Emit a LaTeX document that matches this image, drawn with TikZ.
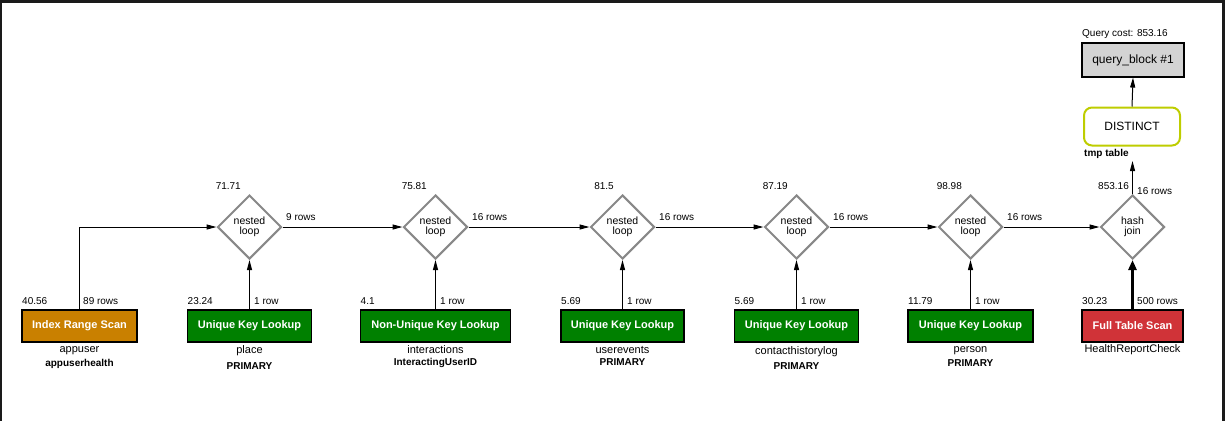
\documentclass[tikz,border=0pt]{standalone}
\usepackage{fontspec}
\setmainfont{Liberation Sans}
\usetikzlibrary{shapes.geometric,arrows.meta}
\definecolor{scanorange}{RGB}{201,128,0}
\definecolor{lookupgreen}{RGB}{0,128,0}
\definecolor{fullscanred}{RGB}{208,51,56}
\definecolor{joingrey}{RGB}{136,136,136}
\definecolor{blockgrey}{RGB}{211,211,211}
\definecolor{distinctline}{RGB}{190,205,0}
\definecolor{framedark}{RGB}{26,26,26}

\begin{document}
\begin{tikzpicture}[x=1pt,y=-1pt,
  opbox/.style={draw=black,line width=1.1pt,minimum height=32pt,inner sep=0pt,
    text=white,font=\fontsize{11}{13}\selectfont\bfseries},
  joinnode/.style={diamond,draw=joingrey,line width=2pt,fill=white,
    minimum width=64pt,minimum height=64pt,inner sep=0pt,align=center,
    font=\fontsize{10.5}{10.5}\selectfont},
  lbl/.style={inner sep=0pt,font=\fontsize{10}{12}\selectfont},
  tblname/.style={inner sep=0pt,anchor=base,font=\fontsize{11}{13}\selectfont},
  keyname/.style={inner sep=0pt,anchor=base,font=\fontsize{10}{12}\selectfont\bfseries},
  flow/.style={line width=1pt,-{Triangle[length=10pt,width=5pt]}},
  heavyflow/.style={line width=2.5pt,-{Triangle[length=10pt,width=8pt]}},
]
\useasboundingbox (0,0) rectangle (1225,421);

% window frame
\fill[framedark] (0,0) rectangle (1225,3);
\fill[framedark] (0,0) rectangle (2,421);
\fill[framedark] (1222,0) rectangle (1225,421);

% join operators
\node[joinnode] (d1) at (249.5,227) {nested\\loop};
\node[joinnode] (d2) at (435.5,227) {nested\\loop};
\node[joinnode] (d3) at (622.5,227) {nested\\loop};
\node[joinnode] (d4) at (796.5,227) {nested\\loop};
\node[joinnode] (d5) at (970.5,227) {nested\\loop};
\node[joinnode] (hj) at (1132.5,227) {hash\\join};

% table access operators
\node[opbox,fill=scanorange,minimum width=115pt] (irs) at (79.5,326) {Index Range Scan};
\node[opbox,fill=lookupgreen,minimum width=124pt] (u1) at (249.5,326) {Unique Key Lookup};
\node[opbox,fill=lookupgreen,minimum width=150pt] (nu) at (435.5,326) {Non-Unique Key Lookup};
\node[opbox,fill=lookupgreen,minimum width=123pt] (u2) at (622.5,326) {Unique Key Lookup};
\node[opbox,fill=lookupgreen,minimum width=124pt] (u3) at (796.5,326) {Unique Key Lookup};
\node[opbox,fill=lookupgreen,minimum width=125pt] (u4) at (970.5,326) {Unique Key Lookup};
\node[opbox,fill=fullscanred,minimum width=101pt] (fts) at (1132.5,326) {Full Table Scan};

% result operators
\node[draw=distinctline,line width=2pt,rounded corners=8pt,fill=white,
  minimum width=96pt,minimum height=38pt,inner sep=0pt,
  font=\fontsize{12}{14}\selectfont] (dst) at (1132,126.5) {DISTINCT};
\node[draw=black,line width=1.1pt,fill=blockgrey,minimum width=102pt,
  minimum height=34pt,inner sep=0pt,font=\fontsize{12}{14}\selectfont]
  (qb) at (1133,60) {query\_block \#1};
\coordinate (tmpin) at (1132.5,161);

% connectors
\draw[flow] (irs.north) |- (d1.west);
\draw[flow] (d1.east) -- (d2.west);
\draw[flow] (d2.east) -- (d3.west);
\draw[flow] (d3.east) -- (d4.west);
\draw[flow] (d4.east) -- (d5.west);
\draw[flow] (d5.east) -- (hj.west);
\draw[flow] (u1.north) -- (d1.south);
\draw[flow] (nu.north) -- (d2.south);
\draw[flow] (u2.north) -- (d3.south);
\draw[flow] (u3.north) -- (d4.south);
\draw[flow] (u4.north) -- (d5.south);
\draw[heavyflow] (fts.north) -- (hj.south);
\draw[flow] (hj.north) -- (tmpin);
\draw[flow] (dst.north) -- (qb.south);

% costs and row counts of the joins
\node[lbl,anchor=base east] (c1) at (241,189) {71.71};
\node[lbl,anchor=base east] (c2) at (427,189) {75.81};
\node[lbl,anchor=base east] (c3) at (614,189) {81.5};
\node[lbl,anchor=base east] (c4) at (788,189) {87.19};
\node[lbl,anchor=base east] (c5) at (962,189) {98.98};
\node[lbl,anchor=base east] (c6) at (1129,189.5) {853.16};
\node[lbl,anchor=base west] (r1) at (286,220) {9 rows};
\node[lbl,anchor=base west] (r2) at (472,220) {16 rows};
\node[lbl,anchor=base west] (r3) at (659,220) {16 rows};
\node[lbl,anchor=base west] (r4) at (833,220) {16 rows};
\node[lbl,anchor=base west] (r5) at (1007,220) {16 rows};
\node[lbl,anchor=base west] (r6) at (1137,194) {16 rows};

% costs and row counts of the table accesses
\node[lbl,anchor=base west] (ac1) at (22,304.5) {40.56};
\node[lbl,anchor=base west] (ar1) at (83,304.5) {89 rows};
\node[lbl,anchor=base west] (ac2) at (187.5,304.5) {23.24};
\node[lbl,anchor=base west] (ar2) at (254,304.5) {1 row};
\node[lbl,anchor=base west] (ac3) at (360.5,304.5) {4.1};
\node[lbl,anchor=base west] (ar3) at (440,304.5) {1 row};
\node[lbl,anchor=base west] (ac4) at (561,304.5) {5.69};
\node[lbl,anchor=base west] (ar4) at (627,304.5) {1 row};
\node[lbl,anchor=base west] (ac5) at (734.5,304.5) {5.69};
\node[lbl,anchor=base west] (ar5) at (801,304.5) {1 row};
\node[lbl,anchor=base west] (ac6) at (908,304.5) {11.79};
\node[lbl,anchor=base west] (ar6) at (975,304.5) {1 row};
\node[lbl,anchor=base west] (ac7) at (1082,304.5) {30.23};
\node[lbl,anchor=base west] (ar7) at (1137,304.5) {500 rows};

% table and index names
\node[tblname] (t1) at (79.5,352) {appuser};
\node[keyname] (k1) at (79.5,366) {appuserhealth};
\node[tblname] (t2) at (249.5,353) {place};
\node[keyname] (k2) at (249.5,369) {PRIMARY};
\node[tblname] (t3) at (435.5,353) {interactions};
\node[keyname] (k3) at (435.5,365) {InteractingUserID};
\node[tblname] (t4) at (622.5,353) {userevents};
\node[keyname] (k4) at (622.5,365) {PRIMARY};
\node[tblname] (t5) at (796.5,354) {contacthistorylog};
\node[keyname] (k5) at (796.5,369) {PRIMARY};
\node[tblname] (t6) at (970.5,352) {person};
\node[keyname] (k6) at (970.5,366) {PRIMARY};
\node[tblname] (t7) at (1132.5,352) {HealthReportCheck};

% result annotations
\node[lbl,anchor=base west] (qc) at (1082,36.5) {Query cost: 853.16};
\node[keyname,anchor=base west] (tmp) at (1084,156.5) {tmp table};
\end{tikzpicture}
\end{document}
